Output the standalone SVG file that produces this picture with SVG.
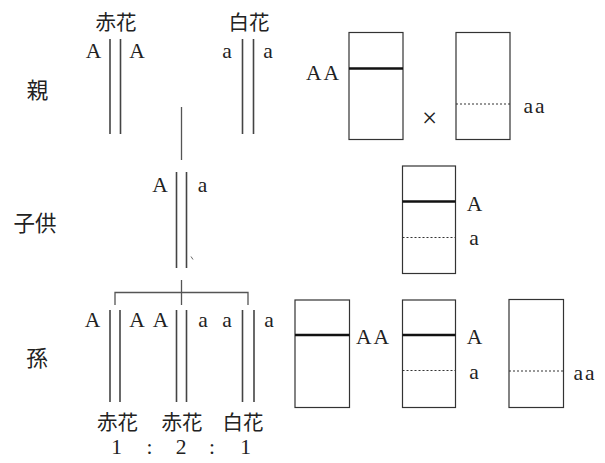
<svg xmlns="http://www.w3.org/2000/svg" width="605" height="463" viewBox="0 0 605 463">
  <style>
    .lat { font-family: "Liberation Serif", "DejaVu Serif", serif; font-size: 21.5px; fill: #222; text-anchor: middle; }
    .pair { letter-spacing: 2px; }
    .jp { font-family: "Noto Sans CJK JP", "Noto Sans", sans-serif; font-size: 20.5px; fill: #222; text-anchor: middle; dominant-baseline: central; }
    .gen { font-size: 21.5px; }
    .chr { stroke: #444; stroke-width: 1.6; fill: none; }
    .link { stroke: #555; stroke-width: 1.3; fill: none; }
    .box { stroke: #333; stroke-width: 1.2; fill: #fff; }
    .dom { stroke: #111; stroke-width: 2.6; }
    .rec { stroke: #333; stroke-width: 1.2; stroke-dasharray: 2 2; }
  </style>

  <!-- generation labels -->
  <g id="gen-labels">
    <text class="jp gen" x="37.5" y="88.5">親</text>
    <text class="jp gen" x="35" y="221.5">子供</text>
    <text class="jp gen" x="37" y="356">孫</text>
  </g>

  <!-- connectors between generations -->
  <g id="connectors">
    <line class="link" x1="181.5" y1="107" x2="181.5" y2="160"/>
    <line class="link" x1="181.5" y1="280" x2="181.5" y2="305"/>
    <polyline class="link" points="115,305 115,292.5 248,292.5 248,305"/>
  </g>

  <!-- parents: red flower AA -->
  <g id="parent-red">
    <text class="jp" x="116" y="20.5">赤花</text>
    <line class="chr" x1="110" y1="39" x2="110" y2="134"/>
    <line class="chr" x1="120.5" y1="39" x2="120.5" y2="134"/>
    <text class="lat" x="93.5" y="58">A</text>
    <text class="lat" x="137" y="58">A</text>
  </g>

  <!-- parents: white flower aa -->
  <g id="parent-white">
    <text class="jp" x="249" y="20.5">白花</text>
    <line class="chr" x1="242.5" y1="39" x2="242.5" y2="134"/>
    <line class="chr" x1="253.5" y1="39" x2="253.5" y2="134"/>
    <text class="lat" x="227" y="58">a</text>
    <text class="lat" x="268" y="58">a</text>
  </g>

  <!-- child Aa -->
  <g id="child">
    <line class="chr" x1="176.5" y1="172" x2="176.5" y2="268"/>
    <line class="chr" x1="186.5" y1="172" x2="186.5" y2="268"/>
    <text class="lat" x="160" y="192">A</text>
    <text class="lat" x="202.5" y="192">a</text>
    <line stroke="#666" stroke-width="1" x1="191" y1="256.5" x2="193" y2="259.5"/>
  </g>

  <!-- grandchildren -->
  <g id="grandchild-AA">
    <line class="chr" x1="110" y1="310" x2="110" y2="402"/>
    <line class="chr" x1="120" y1="310" x2="120" y2="402"/>
    <text class="lat" x="92.5" y="327">A</text>
    <text class="lat" x="137" y="327">A</text>
    <text class="jp" x="117.5" y="421">赤花</text>
  </g>
  <g id="grandchild-Aa">
    <line class="chr" x1="176.5" y1="310" x2="176.5" y2="402"/>
    <line class="chr" x1="186.5" y1="310" x2="186.5" y2="402"/>
    <text class="lat" x="160.5" y="327">A</text>
    <text class="lat" x="203" y="327">a</text>
    <text class="jp" x="182" y="421">赤花</text>
  </g>
  <g id="grandchild-aa">
    <line class="chr" x1="242.5" y1="310" x2="242.5" y2="402"/>
    <line class="chr" x1="254" y1="310" x2="254" y2="402"/>
    <text class="lat" x="227" y="327">a</text>
    <text class="lat" x="269" y="327">a</text>
    <text class="jp" x="243" y="421">白花</text>
  </g>

  <!-- segregation ratio -->
  <g id="ratio">
    <text class="lat" x="116.5" y="454">1</text>
    <text class="lat" x="149.5" y="454">:</text>
    <text class="lat" x="181" y="454">2</text>
    <text class="lat" x="212" y="454">:</text>
    <text class="lat" x="245.5" y="454">1</text>
  </g>

  <!-- cell boxes: parents -->
  <g id="cell-parent-AA">
    <rect class="box" x="349" y="32.5" width="54" height="107"/>
    <line class="dom" x1="349" y1="68.5" x2="403" y2="68.5"/>
    <text class="lat pair" x="323.5" y="80">AA</text>
  </g>
  <text id="cross" class="lat" x="429.5" y="127" style="font-size:27px">×</text>
  <g id="cell-parent-aa">
    <rect class="box" x="456" y="32.5" width="54" height="107"/>
    <line class="rec" x1="456" y1="104" x2="510" y2="104"/>
    <text class="lat pair" x="535" y="113">aa</text>
  </g>

  <!-- cell box: child -->
  <g id="cell-child">
    <rect class="box" x="402.5" y="166" width="53" height="107.5"/>
    <line class="dom" x1="402.5" y1="201.5" x2="455.5" y2="201.5"/>
    <line class="rec" x1="402.5" y1="237.5" x2="455.5" y2="237.5"/>
    <text class="lat" x="474.5" y="210.5">A</text>
    <text class="lat" x="474" y="245">a</text>
  </g>

  <!-- cell boxes: grandchildren -->
  <g id="cell-grand-AA">
    <rect class="box" x="295" y="300" width="54.5" height="107.5"/>
    <line class="dom" x1="295" y1="335" x2="349.5" y2="335"/>
    <text class="lat pair" x="373.5" y="344">AA</text>
  </g>
  <g id="cell-grand-Aa">
    <rect class="box" x="402.5" y="300" width="53" height="107.5"/>
    <line class="dom" x1="402.5" y1="335" x2="455.5" y2="335"/>
    <line class="rec" x1="402.5" y1="370.5" x2="455.5" y2="370.5"/>
    <text class="lat" x="474.5" y="344">A</text>
    <text class="lat" x="474" y="379">a</text>
  </g>
  <g id="cell-grand-aa">
    <rect class="box" x="509" y="299.5" width="54.5" height="108"/>
    <line class="rec" x1="509" y1="371" x2="563.5" y2="371"/>
    <text class="lat pair" x="585" y="380">aa</text>
  </g>
</svg>
